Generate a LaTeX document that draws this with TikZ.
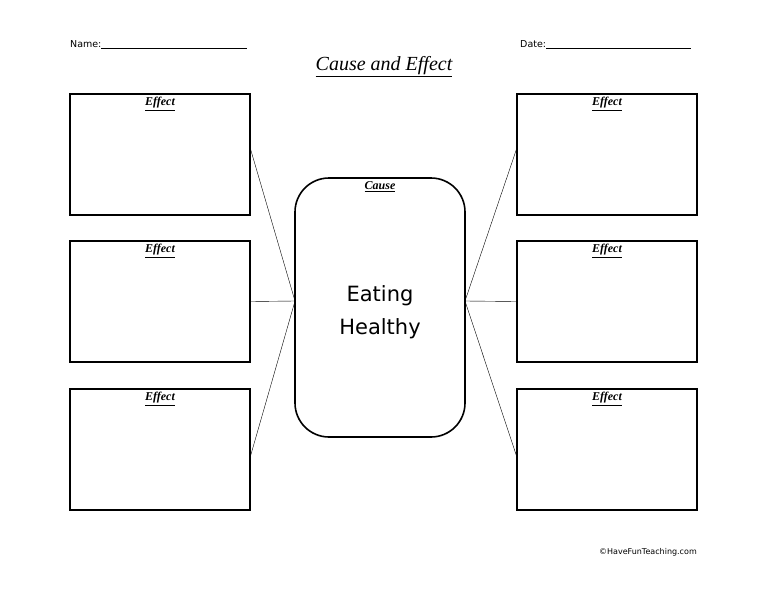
\documentclass[tikz,border=0pt]{standalone}
\usepackage{fontspec}
\setmainfont{DejaVu Sans}
\newfontfamily\hand{Liberation Serif}
\begin{document}
\begin{tikzpicture}[x=1pt,y=-1pt,
  effect/.style={draw, line width=1.6pt, minimum width=180pt, minimum height=121pt, inner sep=0pt},
  cause/.style={draw, line width=1.6pt, rounded corners=34pt, minimum width=170pt, minimum height=259pt, inner sep=0pt},
  tag/.style={font=\hand\itshape\bfseries\fontsize{12}{12}\selectfont, inner sep=1pt},
  link/.style={line width=0.4pt}]
  \useasboundingbox (0,0) rectangle (768,594);
  % header
  \node (name) [anchor=base west, font=\fontsize{9.5}{9.5}\selectfont, inner sep=0pt] at (70,48) {Name:\rule{146pt}{0.4pt}};
  \node (date) [anchor=base west, font=\fontsize{9.5}{9.5}\selectfont, inner sep=0pt] at (520,48) {Date:\rule{145pt}{0.4pt}};
  \node (title) [font=\hand\itshape\fontsize{20}{20}\selectfont] at (384,67) {\underline{Cause and Effect}};
  % boxes
  \node (l1) [effect] at (160,154.5) {};
  \node (l2) [effect] at (160,301.5) {};
  \node (l3) [effect] at (160,449.5) {};
  \node (r1) [effect] at (607,154.5) {};
  \node (r2) [effect] at (607,301.5) {};
  \node (r3) [effect] at (607,449.5) {};
  \node (c) [cause] at (380,307.5) {};
  \foreach \b in {l1,l2,l3,r1,r2,r3}
    \node [tag, below=3pt] at (\b.north) {\underline{Effect}};
  \node [tag, below=3pt] at (c.north) {\underline{Cause}};
  \node (txt) [font=\fontsize{21}{33}\selectfont, align=center] at (380,312) {Eating\\Healthy};
  % connectors
  \coordinate (cl) at (295,301);
  \coordinate (cr) at (465,301);
  \draw [link] (l1.east |- 0,150) -- (cl);
  \draw [link] (l2.east) -- (cl);
  \draw [link] (l3.east |- 0,455) -- (cl);
  \draw [link] (r1.west |- 0,150) -- (cr);
  \draw [link] (r2.west) -- (cr);
  \draw [link] (r3.west |- 0,455) -- (cr);
  \node (copy) [anchor=base east, font=\fontsize{8}{8}\selectfont, inner sep=0pt] at (697,554) {©HaveFunTeaching.com};
\end{tikzpicture}
\end{document}
